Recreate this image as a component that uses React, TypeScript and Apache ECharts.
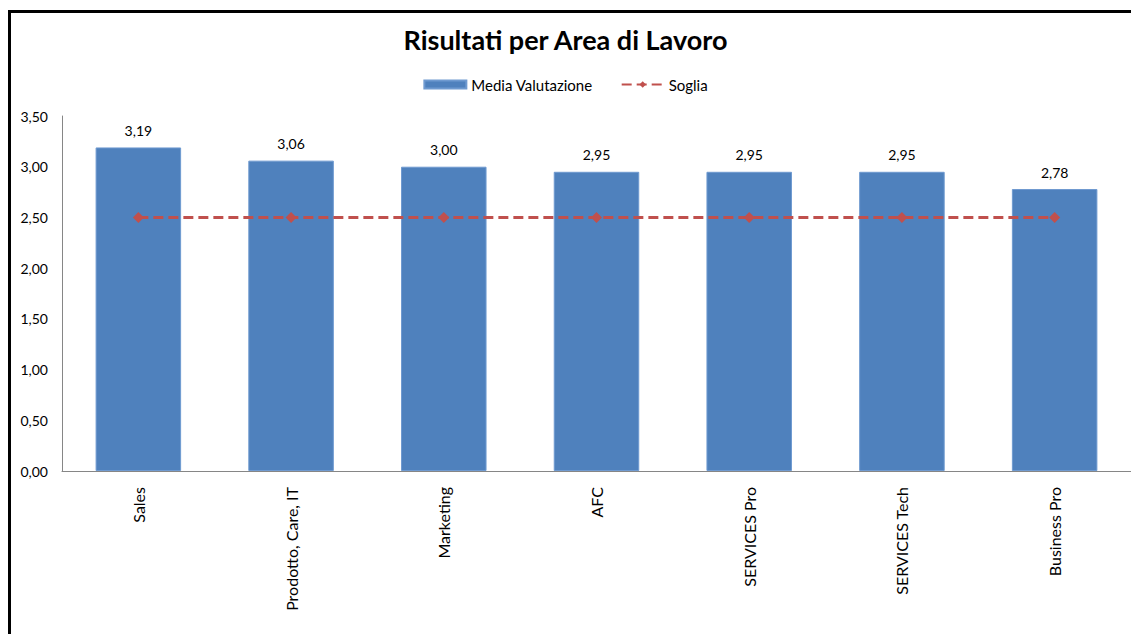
import React, { useEffect, useRef } from "react";
import * as echarts from "echarts";

// Work areas and their average evaluation
const categories = [
  "Sales",
  "Prodotto, Care, IT",
  "Marketing",
  "AFC",
  "SERVICES Pro",
  "SERVICES Tech",
  "Business Pro",
];
const mediaValutazione = [3.19, 3.06, 3.0, 2.95, 2.95, 2.95, 2.78];
const soglia = [2.5, 2.5, 2.5, 2.5, 2.5, 2.5, 2.5];
const yTicks = { min: 0, max: 3.5, interval: 0.5 };

const FONT = "Lato, 'Open Sans', sans-serif";
const fmt = (v: number) => v.toFixed(2).replace(".", ",");

export default function App() {
  const ref = useRef<HTMLDivElement>(null);

  useEffect(() => {
    if (!ref.current) return;
    const chart = echarts.init(ref.current, undefined, { renderer: "svg" });
    chart.setOption({
      animation: false,
      backgroundColor: "#ffffff",
      textStyle: { fontFamily: FONT },
      title: {
        text: "Risultati per Area di Lavoro",
        left: "center",
        top: 21,
        textStyle: { fontFamily: FONT, fontSize: 27, fontWeight: "bold", color: "#000000" },
      },
      legend: {
        top: 72,
        left: "center",
        itemWidth: 42,
        itemHeight: 8,
        itemGap: 28,
        textStyle: { fontFamily: FONT, fontSize: 15, color: "#000000" },
        data: [
          { name: "Media Valutazione", icon: "rect" },
          { name: "Soglia" },
        ],
      },
      grid: { left: 62, right: 0, top: 116, bottom: 163, containLabel: false },
      graphic: [
        {
          type: "rect",
          shape: { x: 9.5, y: 11.5, width: 1200, height: 700 },
          style: { fill: "none", stroke: "#000000", lineWidth: 3 },
          silent: true,
          z: 100,
        },
      ],
      xAxis: {
        type: "category",
        data: categories,
        axisLine: { lineStyle: { color: "#868686", width: 1 } },
        axisTick: { show: false },
        axisLabel: {
          rotate: 90,
          margin: 16,
          fontFamily: FONT,
          fontSize: 16,
          color: "#000000",
          interval: 0,
        },
      },
      yAxis: {
        type: "value",
        min: yTicks.min,
        max: yTicks.max,
        interval: yTicks.interval,
        axisLine: { show: true, lineStyle: { color: "#868686", width: 1 } },
        axisTick: { show: false },
        splitLine: { show: false },
        axisLabel: {
          margin: 14,
          fontFamily: FONT,
          fontSize: 14,
          color: "#000000",
          formatter: (v: number) => fmt(v),
        },
      },
      series: [
        {
          name: "Media Valutazione",
          type: "bar",
          data: mediaValutazione,
          barWidth: "56%",
          itemStyle: { color: "#4F81BD", borderColor: "#6F9AD0", borderWidth: 1 },
          label: {
            show: true,
            position: "top",
            distance: 10,
            fontFamily: FONT,
            fontSize: 14,
            color: "#000000",
            formatter: (p: any) => fmt(p.value),
          },
        },
        {
          name: "Soglia",
          type: "line",
          data: soglia,
          symbol: "diamond",
          symbolSize: 11,
          itemStyle: { color: "#C0504D" },
          lineStyle: { color: "#C0504D", width: 3, type: [10, 5] },
          z: 5,
        },
      ],
    });
    return () => chart.dispose();
  }, []);

  return (
    <div
      ref={ref}
      style={{ position: "fixed", left: 0, top: 0, width: 1131, height: 634 }}
    />
  );
}
